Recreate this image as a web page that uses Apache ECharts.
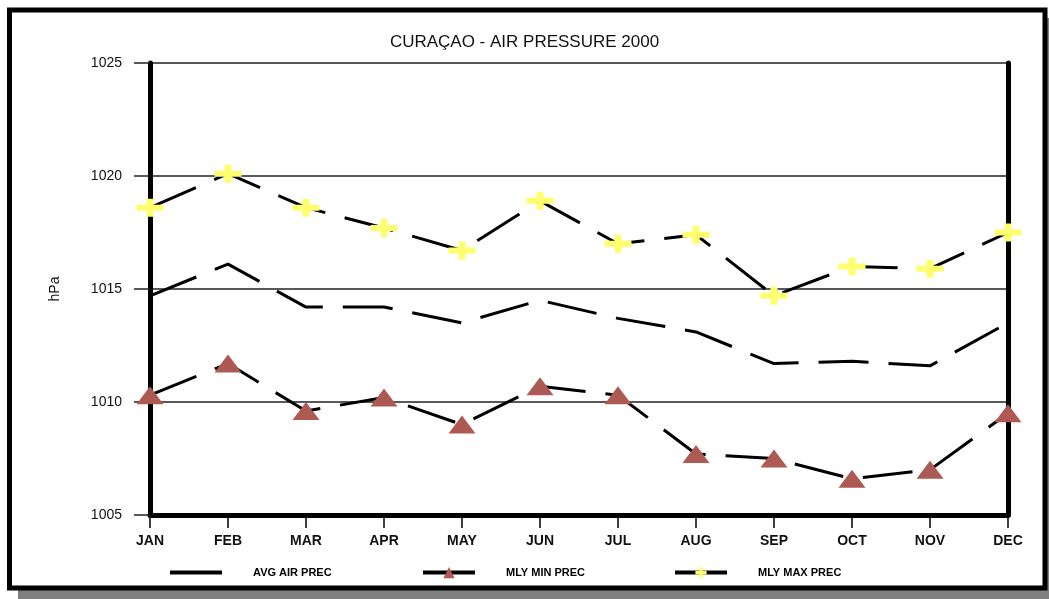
<!DOCTYPE html>
<html>
<head>
<meta charset="utf-8">
<script src="https://cdn.jsdelivr.net/npm/echarts@6/dist/echarts.min.js"></script>
<style>
html,body{margin:0;padding:0;background:#fff;}
#chart{width:1049px;height:599px;}
</style>
</head>
<body>
<div id="chart"></div>
<script>
const titleText = 'CURAÇAO - AIR PRESSURE 2000';
const months = ['JAN','FEB','MAR','APR','MAY','JUN','JUL','AUG','SEP','OCT','NOV','DEC'];
const avgAirPrec = [1014.7, 1016.1, 1014.2, 1014.2, 1013.5, 1014.5, 1013.7, 1013.1, 1011.7, 1011.8, 1011.6, 1013.5];
const mlyMinPrec = [1010.3, 1011.7, 1009.6, 1010.2, 1009.0, 1010.7, 1010.3, 1007.7, 1007.5, 1006.6, 1007.0, 1009.5];
const mlyMaxPrec = [1018.6, 1020.1, 1018.6, 1017.7, 1016.7, 1018.9, 1017.0, 1017.4, 1014.7, 1016.0, 1015.9, 1017.5];
const yMin = 1005, yMax = 1025, yStep = 5;
const seriesNames = ['AVG AIR PREC', 'MLY MIN PREC', 'MLY MAX PREC'];

const FONT = '"Liberation Sans", Arial, sans-serif';
const plusPath = 'path://M0,6 L10,6 L10,0 L17,0 L17,6 L27,6 L27,12 L17,12 L17,18 L10,18 L10,12 L0,12 Z';
const dash = [50, 20];

const chart = echarts.init(document.getElementById('chart'), null, {renderer: 'canvas'});

function legendFor(name, left, plainLine) {
  const lg = {
    data: [name],
    left: left,
    top: 562,
    itemWidth: 52,
    itemHeight: plainLine ? 4 : 14,
    textStyle: {fontFamily: FONT, fontSize: 11, fontWeight: 'bold', color: '#000', padding: [0, 0, 0, 26]},
    lineStyle: {type: 'solid', width: 4, color: '#000'},
    selectedMode: false
  };
  if (plainLine) {
    lg.icon = 'rect';
    lg.itemStyle = {color: '#000'};
  }
  return lg;
}

const option = {
  backgroundColor: '#fff',
  animation: false,
  graphic: [
    {type: 'rect', z: -10, shape: {x: 18, y: 18, width: 1031, height: 581}, style: {fill: '#808080'}},
    {type: 'rect', z: -9, shape: {x: 9.5, y: 10, width: 1035.5, height: 578}, style: {fill: '#fff', stroke: '#000', lineWidth: 5}}
  ],
  title: {
    text: titleText,
    left: 'center',
    top: 29,
    textStyle: {fontFamily: FONT, fontSize: 17, fontWeight: 'normal', color: '#111'}
  },
  legend: [
    legendFor(seriesNames[0], 165, true),
    legendFor(seriesNames[1], 416, false),
    legendFor(seriesNames[2], 668, false)
  ],
  grid: {left: 150, right: 41, top: 63, bottom: 84, containLabel: false},
  xAxis: {
    type: 'category',
    data: months,
    boundaryGap: false,
    axisLine: {onZero: false, lineStyle: {color: '#000', width: 5}},
    axisTick: {show: true, alignWithLabel: true, length: 13, lineStyle: {color: '#000', width: 1.5}},
    axisLabel: {margin: 19, fontFamily: FONT, fontSize: 14, fontWeight: 'bold', color: '#111'},
    splitLine: {show: false}
  },
  yAxis: [
    {
      type: 'value',
      min: yMin, max: yMax, interval: yStep,
      name: 'hPa',
      nameLocation: 'middle',
      nameRotate: 90,
      nameGap: 88,
      nameTextStyle: {fontFamily: FONT, fontSize: 14, color: '#111'},
      axisLine: {show: true, lineStyle: {color: '#000', width: 5}},
      axisTick: {show: true, length: 16, lineStyle: {color: '#222', width: 1.5}},
      axisLabel: {margin: 28, fontFamily: FONT, fontSize: 14, color: '#111', formatter: function (v) { return String(v); }},
      splitLine: {show: true, lineStyle: {color: '#222', width: 1.5}}
    },
    {
      type: 'value',
      position: 'right',
      min: yMin, max: yMax, interval: yStep,
      axisLine: {show: true, lineStyle: {color: '#000', width: 5}},
      axisTick: {show: false},
      axisLabel: {show: false},
      splitLine: {show: false}
    }
  ],
  series: [
    {
      name: seriesNames[0],
      type: 'line',
      data: avgAirPrec,
      symbol: 'none',
      lineStyle: {color: '#000', width: 3, type: dash},
      itemStyle: {color: '#000'},
      z: 2
    },
    {
      name: seriesNames[1],
      type: 'line',
      data: mlyMinPrec,
      symbol: 'triangle',
      symbolSize: [27, 18],
      showAllSymbol: true,
      lineStyle: {color: '#000', width: 3, type: dash},
      itemStyle: {color: '#AD5A55'},
      z: 3
    },
    {
      name: seriesNames[2],
      type: 'line',
      data: mlyMaxPrec,
      symbol: plusPath,
      symbolSize: [27, 18],
      symbolKeepAspect: false,
      showAllSymbol: true,
      lineStyle: {color: '#000', width: 3, type: dash},
      itemStyle: {color: '#FFFF6E'},
      z: 3
    }
  ]
};
chart.setOption(option);
</script>
</body>
</html>
